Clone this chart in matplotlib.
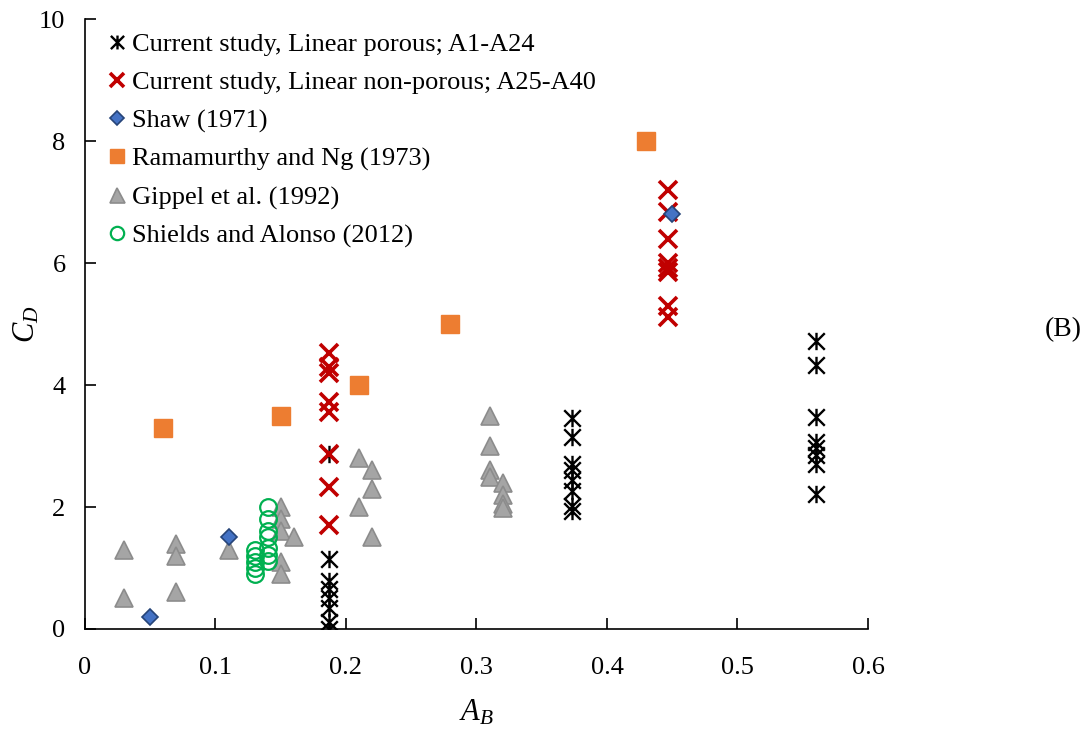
import matplotlib
matplotlib.use('Agg')
import matplotlib.pyplot as plt
from matplotlib.path import Path

plt.rcParams['font.family'] = ['Liberation Serif', 'DejaVu Serif']
plt.rcParams['mathtext.fontset'] = 'custom'
plt.rcParams['mathtext.rm'] = 'Liberation Serif'
plt.rcParams['mathtext.it'] = 'Liberation Serif:italic'

# current study, linear porous (A1-A24)
porous_x = [0.187] * 8 + [0.373] * 8 + [0.56] * 8
porous_y = [2.87, 1.15, 0.78, 0.65, 0.5, 0.35, 0.12, 0.0,
            3.46, 3.15, 2.7, 2.6, 2.45, 2.27, 2.02, 1.93,
            4.72, 4.33, 3.48, 3.06, 2.96, 2.85, 2.71, 2.21]

# current study, linear non-porous (A25-A40)
nonpor_x = [0.187] * 8 + [0.447] * 8
nonpor_y = [4.52, 4.3, 4.2, 3.72, 3.56, 2.87, 2.33, 1.7,
            7.2, 6.84, 6.4, 6.0, 5.92, 5.86, 5.3, 5.12]

shaw_x = [0.05, 0.11, 0.45]
shaw_y = [0.2, 1.5, 6.8]

ram_x = [0.06, 0.15, 0.21, 0.28, 0.43]
ram_y = [3.3, 3.5, 4.0, 5.0, 8.0]

gip_x = [0.03, 0.03, 0.07, 0.07, 0.07, 0.11, 0.15, 0.15, 0.15, 0.16, 0.15, 0.15,
         0.21, 0.22, 0.22, 0.21, 0.22, 0.31, 0.31, 0.31, 0.31, 0.32, 0.32, 0.32, 0.32]
gip_y = [1.3, 0.5, 1.4, 1.2, 0.6, 1.3, 2.0, 1.8, 1.6, 1.5, 1.1, 0.9,
         2.8, 2.6, 2.3, 2.0, 1.5, 3.5, 3.0, 2.6, 2.5, 2.4, 2.2, 2.05, 1.98]

shields_x = [0.13] * 5 + [0.14] * 7
shields_y = [1.3, 1.2, 1.1, 1.0, 0.9, 2.0, 1.8, 1.6, 1.5, 1.33, 1.22, 1.12]

# excel-style star: an x with a vertical bar through it
star = Path([(-1, -1), (1, 1), (-1, 1), (1, -1), (0, -1.05), (0, 1.05)],
            [Path.MOVETO, Path.LINETO, Path.MOVETO, Path.LINETO, Path.MOVETO, Path.LINETO])

fig = plt.figure(figsize=(10.85, 7.33), dpi=100)
ax = fig.add_axes([0.0783, 0.1419, 0.7217, 0.8321])

ax.plot(porous_x, porous_y, ls='none', marker=star, ms=12.5, mec='black', mew=1.7,
        label='Current study, Linear porous; A1-A24')
ax.plot(nonpor_x, nonpor_y, ls='none', marker='x', ms=13, mec='#C00000', mew=2.6,
        label='Current study, Linear non-porous; A25-A40')
ax.plot(shaw_x, shaw_y, ls='none', marker='D', ms=8.5, mfc='#4472C4', mec='#264478', mew=1.2,
        label='Shaw (1971)', zorder=4)
ax.plot(ram_x, ram_y, ls='none', marker='s', ms=12.5, mfc='#ED7D31', mec='#ED7D31',
        label='Ramamurthy and Ng (1973)')
ax.plot(gip_x, gip_y, ls='none', marker='^', ms=13.5, mfc='#A5A5A5', mec='#8C8C8C', mew=1.2,
        label='Gippel et al. (1992)')
ax.plot(shields_x, shields_y, ls='none', marker='o', ms=12, mfc='none', mec='#00B050', mew=1.6,
        label='Shields and Alonso (2012)')

ax.set_xlim(0, 0.6)
ax.set_ylim(0, 10)
ax.set_xticks([0, 0.1, 0.2, 0.3, 0.4, 0.5, 0.6])
ax.set_xticklabels(['0', '0.1', '0.2', '0.3', '0.4', '0.5', '0.6'])
ax.set_yticks([0, 2, 4, 6, 8, 10])
ax.tick_params(direction='in', length=8, width=1.2, labelsize=19)
ax.tick_params(axis='x', pad=20)
ax.tick_params(axis='y', pad=14)
for s in ['top', 'right']:
    ax.spines[s].set_visible(False)
for s in ['left', 'bottom']:
    ax.spines[s].set_linewidth(1.2)

ax.set_xlabel('$A_B$', fontsize=22, labelpad=14)
ax.set_ylabel('$C_D$', fontsize=22, labelpad=-2)

leg = ax.legend(loc='upper left', bbox_to_anchor=(0.0, 1.012), frameon=False, fontsize=19,
                handlelength=0.8, handletextpad=0.2, labelspacing=0.55, borderaxespad=0.4,
                markerscale=0.8)

fig.text(0.997, 0.55, '(B)', fontsize=20, ha='right', va='center')

fig.savefig('out.png', dpi=100)
